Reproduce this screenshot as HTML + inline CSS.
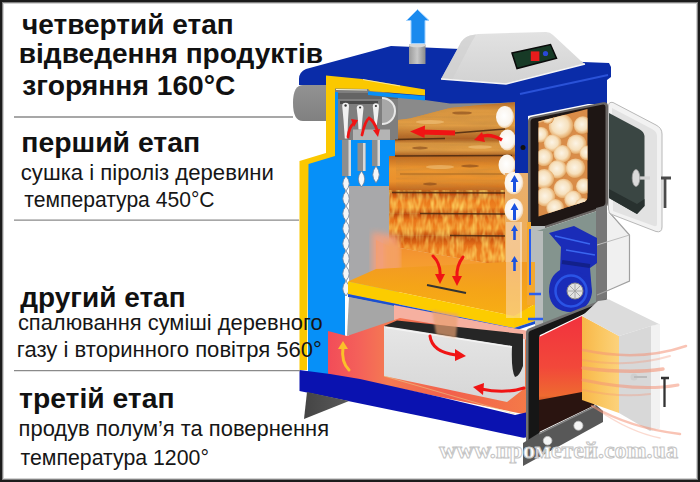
<!DOCTYPE html>
<html><head><meta charset="utf-8">
<style>
html,body{margin:0;padding:0;background:#fff;}
#wrap{position:relative;width:700px;height:482px;overflow:hidden;background:#fff;}
svg{position:absolute;left:0;top:0;}
.b{font-family:"Liberation Sans",sans-serif;font-weight:bold;font-size:28px;fill:#111;}
.r{font-family:"Liberation Sans",sans-serif;font-size:22px;fill:#161616;}
.wm{font-family:"Liberation Serif",serif;font-weight:bold;font-size:24px;fill:#fff;stroke:#c4c4c4;stroke-width:1;}
</style></head><body>
<div id="wrap">
<svg width="700" height="482" viewBox="0 0 700 482">
<defs>
 <linearGradient id="gPipe" x1="0" y1="0" x2="0" y2="1"><stop offset="0" stop-color="#929292"/><stop offset="1" stop-color="#808080"/></linearGradient>
 <linearGradient id="gChim" x1="0" y1="0" x2="1" y2="0"><stop offset="0" stop-color="#9a9a9a"/><stop offset=".5" stop-color="#c8c8c8"/><stop offset="1" stop-color="#8a8a8a"/></linearGradient>
 <linearGradient id="gArrow" x1="0" y1="0" x2="1" y2="0"><stop offset="0" stop-color="#57b4ff"/><stop offset=".5" stop-color="#1f8ff0"/><stop offset="1" stop-color="#1580e6"/></linearGradient>
 <linearGradient id="gBox" x1="0" y1="0" x2="0" y2="1"><stop offset="0" stop-color="#e2e2e2"/><stop offset="1" stop-color="#d2d2d2"/></linearGradient>
 <linearGradient id="gRed" x1="0" y1="0" x2="1" y2="0"><stop offset="0" stop-color="#f24c58"/><stop offset=".15" stop-color="#f4605a"/><stop offset=".3" stop-color="#f47a52"/><stop offset=".6" stop-color="#f2604c"/><stop offset="1" stop-color="#f47a48"/></linearGradient>
 <linearGradient id="gFire" x1="0" y1="0" x2="0" y2="1"><stop offset="0" stop-color="#f08a30"/><stop offset=".5" stop-color="#f59a30"/><stop offset="1" stop-color="#f7a630"/></linearGradient>
 <linearGradient id="gLogs" x1="0" y1="0" x2="0" y2="1"><stop offset="0" stop-color="#d6a062"/><stop offset=".35" stop-color="#cf9350"/><stop offset=".6" stop-color="#d98a38"/><stop offset="1" stop-color="#e0701c"/></linearGradient>
 <linearGradient id="gSlabTop" x1="0" y1="1" x2="0.2" y2="0"><stop offset="0" stop-color="#f8b212"/><stop offset=".6" stop-color="#f5a418"/><stop offset="1" stop-color="#f29a24"/></linearGradient>
 <linearGradient id="gBlock" x1="0" y1="0" x2="0" y2="1"><stop offset="0" stop-color="#e6e6e6"/><stop offset="1" stop-color="#d6d6d6"/></linearGradient>
 <linearGradient id="gGlowL" gradientUnits="userSpaceOnUse" x1="372" y1="0" x2="398" y2="0"><stop offset="0" stop-color="#f2a88c" stop-opacity="0"/><stop offset=".45" stop-color="#f2a088" stop-opacity=".8"/><stop offset="1" stop-color="#f39a60" stop-opacity="1"/></linearGradient>
 <linearGradient id="gFoot" x1="0" y1="0" x2="1" y2="0"><stop offset="0" stop-color="#444"/><stop offset="1" stop-color="#5a5a5a"/></linearGradient>
 <linearGradient id="gDoor2" x1="0" y1="0" x2="1" y2="0"><stop offset="0" stop-color="#f8b648"/><stop offset=".5" stop-color="#fac660"/><stop offset="1" stop-color="#fcd27c"/></linearGradient>
 <linearGradient id="gLowRed" x1="0" y1="0" x2="0" y2="1"><stop offset="0" stop-color="#f2323e"/><stop offset=".45" stop-color="#f2483a"/><stop offset=".7" stop-color="#ee6a30"/><stop offset=".85" stop-color="#7a2614"/><stop offset="1" stop-color="#2a1210"/></linearGradient>
 <linearGradient id="gCol" x1="0" y1="0" x2="0" y2="1"><stop offset="0" stop-color="#e9b070"/><stop offset="1" stop-color="#f4a838"/></linearGradient>
 <linearGradient id="gLogRow" x1="0" y1="0" x2="0" y2="1"><stop offset="0" stop-color="#a85c20"/><stop offset=".25" stop-color="#dc9840"/><stop offset=".65" stop-color="#e09c44"/><stop offset="1" stop-color="#a85c20"/></linearGradient>
 <linearGradient id="gLogRow2" x1="0" y1="0" x2="0" y2="1"><stop offset="0" stop-color="#c06a20"/><stop offset=".35" stop-color="#ec9630"/><stop offset=".7" stop-color="#ea902c"/><stop offset="1" stop-color="#b85a18"/></linearGradient>
 <linearGradient id="gLogFire" x1="0" y1="0" x2="0" y2="1"><stop offset="0" stop-color="#b8420a"/><stop offset=".3" stop-color="#e8741a"/><stop offset=".7" stop-color="#ee8220"/><stop offset="1" stop-color="#c04c0e"/></linearGradient>
 <radialGradient id="gLogEnd" cx=".45" cy=".45" r=".6"><stop offset="0" stop-color="#ffffff"/><stop offset=".72" stop-color="#faf4ec"/><stop offset=".9" stop-color="#f0d0a8"/><stop offset="1" stop-color="#d89858"/></radialGradient>
 <radialGradient id="gWinEnd" cx=".45" cy=".45" r=".55"><stop offset="0" stop-color="#fcf4e6"/><stop offset=".6" stop-color="#f6e0bc"/><stop offset=".9" stop-color="#e8b070"/><stop offset="1" stop-color="#d08a48"/></radialGradient>
 <filter id="fWood" x="0" y="0" width="100%" height="100%">
   <feTurbulence type="fractalNoise" baseFrequency="0.02 0.25" numOctaves="2" seed="3" result="n"/>
   <feColorMatrix in="n" type="matrix" values="0 0 0 0 0.45  0 0 0 0 0.22  0 0 0 0 0.05  0 0 0 1.1 -0.35" result="c"/>
   <feComposite in="c" in2="SourceGraphic" operator="in"/>
 </filter>
 <filter id="fFire" x="0" y="0" width="100%" height="100%">
   <feTurbulence type="fractalNoise" baseFrequency="0.22 0.08" numOctaves="2" seed="7" result="n"/>
   <feColorMatrix in="n" type="matrix" values="0 0 0 0 1  0 0 0 0 0.75  0 0 0 0 0.15  0 0 0 1.8 -0.6" result="c"/>
   <feComposite in="c" in2="SourceGraphic" operator="in"/>
 </filter>
 <filter id="blur1"><feGaussianBlur stdDeviation="1"/></filter>
 <filter id="blur3"><feGaussianBlur stdDeviation="3"/></filter>
 <clipPath id="cLogs"><path d="M398,120 L410,118.5 L450,108 L480,105 L500,103.5 L516,102 L516,268 L389,246 L389,156 L395,156 L395,139.5 L398,139.5 Z"/></clipPath>
 <clipPath id="cWin"><path d="M538.5,121.5 L587.5,109 L587.5,197 Q587.5,200.5 583.5,202 L538.5,216.5 Z"/></clipPath>
</defs>
<!-- ===== BOILER ===== -->
<!-- flue pipe -->
<path d="M303,85 L327,85 L327,121 L303,121 Q293,121 293,103 Q293,85 303,85 Z" fill="url(#gPipe)"/>

<!-- left blue water jacket -->
<path d="M308,163 L335,155 L335,93 L345,93 L345,375 L308,375 Z" fill="#0690f8"/>
<!-- gray smoke chamber -->
<rect x="335" y="88" width="63" height="52" fill="#7e7e7e"/>
<rect x="335" y="92" width="3" height="48" fill="#0690f8"/>
<path d="M398,96 L515,100 L515,125 L398,125 Z" fill="#8a8a8a"/>
<rect x="338" y="93" width="60" height="6" fill="#646464"/>
<!-- blue band with tubes -->
<path d="M345,140 L398,140 L398,180 L392,187 L345,187 Z" fill="#0690f8"/>
<!-- gray lower inner area -->
<rect x="349" y="186" width="50" height="150" fill="#a8a8aa"/>
<!-- salmon glow left of logs -->


<!-- heat exchanger tubes -->
<g>
 <rect x="342" y="140" width="9" height="36" fill="#8e8e8e"/><rect x="348.5" y="140" width="2.5" height="36" fill="#d8d8d8"/>
 <rect x="357.5" y="143" width="8" height="28" fill="#8e8e8e"/><rect x="363" y="143" width="2.5" height="28" fill="#d8d8d8"/>
 <rect x="372" y="140" width="8" height="26" fill="#8e8e8e"/><rect x="377.5" y="140" width="2.5" height="26" fill="#d8d8d8"/>
 <g fill="#f4f6f8" stroke="#6a7c98" stroke-width=".8">
  <path d="M361.5,171 Q368,179 361.5,187 Q355,179 361.5,171 Z"/>
  <path d="M376,166 Q382.5,174.5 376,183 Q369.5,174.5 376,166 Z"/>
  <path d="M346,176 Q352.5,183.5 346,191 Q339.5,183.5 346,176 Z"/>
  <path d="M346,191 Q352.5,198.5 346,206 Q339.5,198.5 346,191 Z"/>
  <path d="M346,206 Q352.5,213.5 346,221 Q339.5,213.5 346,206 Z"/>
  <path d="M346,221 Q352.5,228.5 346,236 Q339.5,228.5 346,221 Z"/>
  <path d="M346,236 Q352.5,243.5 346,251 Q339.5,243.5 346,236 Z"/>
  <path d="M346,251 Q352.5,258.5 346,266 Q339.5,258.5 346,251 Z"/>
  <path d="M346,266 Q352.5,273.5 346,281 Q339.5,273.5 346,266 Z"/>
  <path d="M346,281 Q352.5,288.5 346,296 Q339.5,288.5 346,281 Z"/>
 </g>
 <rect x="340" y="101" width="38" height="3" fill="#4a4a4a"/>
 <g fill="#f0f0f0">
  <path d="M342.2,106 Q342.2,102.8 345.6,102.8 Q349,102.8 349,106 L348,120 L347.4,138.6 L344.8,138.6 L343.5,120 Z"/>
  <path d="M356.7,108 Q356.7,104.9 360.1,104.9 Q363.5,104.9 363.5,108 L362.5,118 L361.5,129.5 L358.5,129.5 L357.8,118 Z"/>
  <path d="M372.8,106.5 Q372.8,103.3 375.9,103.3 Q379,103.3 379,106.5 L378,116 L376.8,125 L374.8,125 L373.8,116 Z"/>
 </g>
 <g fill="#333"><circle cx="345.6" cy="105.5" r="1.2"/><circle cx="360.1" cy="107.5" r="1.1"/><circle cx="375.9" cy="106" r="1.1"/></g>
 <rect x="353" y="129.5" width="37" height="10.5" fill="#b4b4b4"/>
 <path d="M382,98 A13,13 0 0 1 382,124 Z" fill="#a8a8a8"/>
 <path d="M382,98 A13,13 0 0 1 382,124" fill="none" stroke="#e8e8e8" stroke-width="2"/>
 <g fill="none" stroke="#f01414" stroke-width="2.8" stroke-linecap="round">
  <path d="M348,137 Q349,127 354,123"/>
  <path d="M362,135 Q365,121 369,118 Q374,121 377,130"/>
 </g>
 <g fill="#f01414"><path d="M351,119 L358,120 L354,127 Z"/><path d="M373,130 L380,129 L378,137 Z"/></g>
</g>

<!-- logs -->
<g clip-path="url(#cLogs)">
 <rect x="396" y="100" width="124" height="60" fill="#c88a48"/>
 <rect x="389" y="156" width="131" height="114" fill="#c88a48"/>
 <rect x="398" y="100" width="120" height="39.5" fill="url(#gLogRow)"/>
 <rect x="395" y="139.5" width="122" height="16.5" fill="url(#gLogRow)"/>
 <rect x="389" y="156" width="128" height="36.5" fill="url(#gLogRow2)"/>
 <rect x="390" y="192.5" width="127" height="21" fill="url(#gLogFire)"/>
 <rect x="388" y="213.5" width="129" height="22" fill="url(#gLogFire)"/>
 <rect x="388" y="235.5" width="129" height="34" fill="url(#gLogFire)"/>
 <rect x="396" y="100" width="124" height="100" fill="#000" filter="url(#fWood)" opacity=".6"/>
 <rect x="385" y="190" width="135" height="80" fill="#000" filter="url(#fFire)" opacity=".85"/>
 <g fill="#7a4018" opacity=".55">
  <ellipse cx="462" cy="113" rx="10" ry="1.6"/>
  <ellipse cx="420" cy="148" rx="8" ry="1.5"/>
  <ellipse cx="470" cy="166" rx="9" ry="1.5"/>
  <ellipse cx="430" cy="184" rx="7" ry="1.4"/>
 </g>
 <g fill="#f6d090" opacity=".45">
  <ellipse cx="440" cy="167" rx="14" ry="2"/>
  <ellipse cx="480" cy="147" rx="12" ry="1.8"/>
  <ellipse cx="430" cy="122" rx="14" ry="2"/>
 </g>
 <g stroke="#4a2810" stroke-width="1.6" fill="none" opacity=".85">
  <path d="M455,133 L505,129"/>
  <path d="M395,139.5 L445,138.5"/>
  <path d="M395,156 L512,155.5"/>
  <path d="M400,174 L512,174" opacity=".3"/>
  <path d="M392,192.5 L512,193"/>
  <path d="M420,213.5 L512,214"/>
  <path d="M450,235.5 L512,236"/>
 </g>
 <g fill="url(#gLogEnd)">
  <ellipse cx="505" cy="117" rx="9" ry="11"/>
  <ellipse cx="507.5" cy="140" rx="8.5" ry="10.5"/>
  <ellipse cx="507" cy="165" rx="8.5" ry="10.5"/>
 </g>
 <g fill="none" stroke="#f01414" stroke-width="3" stroke-linecap="butt">
  <path d="M455,133 L420,132" stroke-width="5"/>
  <path d="M502,140 Q490,133 480,137" stroke-width="3.5"/>
 </g>
 <g fill="#f01414">
  <path d="M410,131.5 L425,125.5 L424.5,138 Z"/>
  <path d="M474,140 L482,132 L485,142 Z"/>
 </g>
</g>
<!-- right log column -->
<path d="M505,173 L528,173 L528,322 L505,322 Z" fill="url(#gCol)"/>
<g fill="url(#gLogEnd)">
 <ellipse cx="514" cy="183" rx="9.5" ry="11.5"/>
 <ellipse cx="514" cy="210" rx="9.5" ry="11.5"/>
</g>

<rect x="529" y="225" width="2" height="60" fill="#2050e0"/>

<!-- fire glow below logs -->
<path d="M376,240 L389,246 L516,268 L516,280 L376,272 Z" fill="url(#gFire)"/>
<path d="M372,232 L398,236 L398,280 L372,280 Z" fill="#f2a080" filter="url(#blur3)" opacity=".9"/>
<path d="M385,240 L400,246 L400,276 L385,274 Z" fill="#f4a060" filter="url(#blur3)"/>

<!-- lid navy -->
<path d="M299,79 Q299,72 306,69 L391,46 L460,49 L583,62 L609,63 L611,67 L611,77 L607,80 L607,104 L588,104 L528,116 L528,173 L515,173 L515,102 L500,103 L450,103.5 L425,100 L363,88 L334,85 L299,85 Z" fill="#0a2ca8"/>
<path d="M520,94 L608,75" stroke="#2a52d8" stroke-width="2"/>
<circle cx="523" cy="147.5" r="2.5" fill="#111"/>

<!-- yellow insulation -->
<path d="M326,75.5 L362,79 L425,89.5 L425,95.5 L370,91 L368,89 L335,88.5 L335,156 L308.5,164 L307,370 L299.5,370 L299.5,161 L326,153 Z" fill="#fbc800"/>
<path d="M368,91.5 L425,96 L425,100.5 L368,95 Z" fill="#0690f8"/>
<path d="M336,89.5 L367,90" stroke="#f4f0d0" stroke-width="1.2"/>
<path d="M363,79.5 L400,86" stroke="#fff" stroke-width="1" opacity=".6"/>

<!-- chimney + arrow -->
<rect x="409" y="44.5" width="16.5" height="19.5" fill="url(#gChim)"/>
<ellipse cx="417.2" cy="45.5" rx="8.2" ry="1.8" fill="#d8d8d8"/>
<path d="M417.5,9.5 L429,20.5 L425,20.5 L425,43.5 L411,43.5 L411,20.5 L406.5,20.5 Z" fill="#1a8aee" stroke="#9ccfff" stroke-width="1"/>

<!-- control box -->
<path d="M441,79 L459,46 Q462,38 470,35.5 L478,34 L546,32 Q550,32 553,35 L581,61 L585,64 L506,84 Z" fill="url(#gBox)"/>
<path d="M441,79 L459,46 Q462,38 470,35.5 L476,34.5 L470,45 L452,80 Z" fill="#cfcfcf" opacity=".6"/>
<path d="M441,79 L506,84 L585,64" fill="none" stroke="#f6f6f6" stroke-width="1.5"/>
<path d="M512,53 L550.5,44.5 L556.5,58.3 L517,68.6 Z" fill="#173a26" stroke="#0a0a0a" stroke-width="1.5"/>
<rect x="530.8" y="51.4" width="8.6" height="9.6" fill="#e81c1c"/>
<circle cx="545.5" cy="53.5" r="2.6" fill="#2a48d8"/>

<!-- slab (grate) -->
<path d="M348,281.5 L376,269 L505,262 L535,262 L535,304 L514,316 Z" fill="url(#gSlabTop)"/>
<path d="M348,281.5 L514,316 L514,328 L348,294 Z" fill="#fccc00"/>
<path d="M514,316 L535,304 L535,321 L514,328 Z" fill="#fcc800"/>
<path d="M348,294 L514,328 L535,321 L535,324 L514,331 L348,297 Z" fill="#1a4fd0"/>
<line x1="427" y1="285" x2="466" y2="293" stroke="#333" stroke-width="2"/>
<g fill="none" stroke="#f01414" stroke-width="3" stroke-linecap="round">
 <path d="M433,256 Q441,264 440,276"/>
 <path d="M463,257 Q456,266 457,278"/>
</g>
<g fill="#f01414"><path d="M435,274 L445,274 L440,284 Z"/><path d="M452,276 L462,276 L457,286 Z"/></g>

<!-- translucent column + arrows -->
<path d="M506,222 L522,222 L522,318 L506,318 Z" fill="#fbe6d8" opacity=".45"/>
<path d="M521,222 L521,318" stroke="#f8f0e8" stroke-width="1" opacity=".7"/>
<g fill="#1a52e0">
 <path d="M514.5,175 L518.5,182 L516,182 L516,192 L513,192 L513,182 L510.5,182 Z"/>
 <path d="M514.5,203 L518.5,210 L516,210 L516,220 L513,220 L513,210 L510.5,210 Z"/>
 <path d="M514.5,225 L518,231 L515.8,231 L515.8,240 L513.2,240 L513.2,231 L511,231 Z"/>
 <path d="M514.5,256 L518,262 L515.8,262 L515.8,271 L513.2,271 L513.2,262 L511,262 Z"/>
</g>

<!-- lower chamber -->
<!-- gray above red -->
<path d="M349,297 L400,307 L400,318 L347,336 Z" fill="#a6a6a6"/>
<!-- glow strip under slab -->
<path d="M394,305 L528,331 L528,341 L394,321 Z" fill="#f6b0a0"/>
<!-- red chamber -->
<path d="M328,331 L347,336 L400,318 L528,340 L528,415 L328,374 Z" fill="url(#gRed)"/>
<!-- ceramic block front -->
<path d="M384,326 L525,339 L525,388 L507,402 L384,376 Z" fill="url(#gBlock)"/>
<!-- dark trough -->
<path d="M384,326 L397,320.5 L523,334 L523,366 Q519,377 515,377 Q511,370 512,346 L398,328 Z" fill="#262626"/>
<path d="M386,327.5 L512,347" stroke="#f4f4f4" stroke-width="1.5"/>
<!-- flame glow column -->
<path d="M432,310 L458,314 L456,338 L436,334 Z" fill="#e8a070" opacity=".7" filter="url(#blur1)"/>
<!-- red arrows in lower chamber -->
<g fill="none" stroke="#f01414" stroke-width="3" stroke-linecap="round">
 <path d="M430,336 Q432,352 456,355"/>
 <path d="M481,389 Q505,394 524,388"/>
</g>
<g fill="#f01414"><path d="M466,356 L455,349 L455,361 Z"/><path d="M473,387 L484,383 L483,395 Z"/></g>
<!-- yellow arrow -->
<path d="M349,370 Q341,362 343,347" fill="none" stroke="#fbc02a" stroke-width="3" stroke-linecap="round"/>
<path d="M343,341 L348,349 L338,349 Z" fill="#fbc02a"/>

<!-- navy base -->
<path d="M299.5,370 L330,374 L360,379 L440,397 L515,415 L528,412 L528,436 Q526,438.5 522,437.5 L440,420 L299.5,391 Z" fill="#0a12b0"/>
<path d="M384,376 L515,414" stroke="#e8d890" stroke-width="1" opacity=".5"/>
<!-- left foot -->
<path d="M307,392 L349,401 L304,419 Z" fill="url(#gFoot)"/>

<!-- upper door frame -->
<path d="M528,121 Q528,117.5 532,116.8 L603,102.3 Q608,101.5 608,106 L608,203 Q608,207.5 603,209 L537,231 Q528,233 528,226 Z" fill="#6a6664"/>
<path d="M530.5,122 Q530.5,119 533,118.5 L603,104.5 Q605.5,104 605.5,107 L605.5,202 Q605.5,205.5 601.5,207 L537,228.5 Q530.5,230.5 530.5,225 Z" fill="#1e1614"/>
<g clip-path="url(#cWin)">
 <rect x="536" y="104" width="56" height="114" fill="#d98c48"/>
 <g fill="url(#gWinEnd)">
  <circle cx="561.3" cy="126.5" r="12.5"/>
  <circle cx="582.8" cy="125.3" r="9"/>
  <circle cx="541" cy="134.9" r="8"/>
  <circle cx="552.9" cy="143.3" r="9"/>
  <circle cx="576.8" cy="144.4" r="10"/>
  <circle cx="562.5" cy="154" r="9"/>
  <circle cx="544.6" cy="157.6" r="9"/>
  <circle cx="587" cy="153" r="7.5"/>
  <circle cx="557.7" cy="169.5" r="9.5"/>
  <circle cx="575.6" cy="168.4" r="10"/>
  <circle cx="544.6" cy="179" r="10"/>
  <circle cx="563.7" cy="188.7" r="10"/>
  <circle cx="584" cy="186.3" r="8"/>
  <circle cx="545.8" cy="197" r="10"/>
  <circle cx="573.3" cy="199.4" r="9"/>
  <circle cx="555.3" cy="208" r="9"/>
  <circle cx="583" cy="206" r="8"/>
  <circle cx="540" cy="116" r="7"/>
  <circle cx="548" cy="118" r="6"/>
 </g>
</g>

<!-- fan housing -->
<path d="M527,222 L531,222 L531,262 L535,262 L535,305 L527,305 Z" fill="#f4a830"/>
<path d="M531,226 L545,226 L545,333 L535,335 L535,262 L531,262 Z" fill="#b8bcbc"/>
<path d="M537,231 L603,209 L603,301 L543,326 L543,231 Z" fill="#84948e"/>
<path d="M596,208 L607,205 L607,299 L596,304 Z" fill="#777"/>
<path d="M607,212 L629.5,235 L629.5,281 L607,290 Z" fill="#f0f0f0"/>
<path d="M609,212 L629.5,235 L629.5,281 L609,290 L597,295" fill="none" stroke="#a0a0a0" stroke-width="1.2"/>
<path d="M597,245 L629.5,235" fill="none" stroke="#bdbdbd" stroke-width="1"/>
<path d="M549,233 L574,226 L597,238 L597,263 L590,268 L592,292 Q590,310 572,312 Q550,312 549,292 Q549,276 560,270 L561,247 Z" fill="#1a2cb8"/>
<path d="M555,236 L590,244 M566,250 L595,255" stroke="#3a66f0" stroke-width="1.5"/>
<path d="M562,262 L590,266" stroke="#12208a" stroke-width="4"/>
<circle cx="571" cy="291" r="20.5" fill="#1a2cb8"/>
<circle cx="571" cy="291" r="15.5" fill="none" stroke="#2a54e6" stroke-width="2.5"/>
<circle cx="575" cy="291" r="8" fill="#e2e2e2" stroke="#8a8a8a" stroke-width="1"/>
<path d="M575,284 L575,298 M568,291 L582,291 M570,286 L580,296 M580,286 L570,296" stroke="#9a9a9a" stroke-width=".8"/>
<path d="M530,229 L530,285" stroke="#2a5ef0" stroke-width="2"/>
<path d="M529,294 L541,294 M528,319 L543,319" stroke="#2a5ef0" stroke-width="2.5"/>

<!-- lower door frame -->
<path d="M526,333 Q526,329 530,328 L605,298.5 L610,301 L540,333 L540,441 L526,443 Z" fill="#707070"/>
<path d="M528.5,334 Q528.5,331 531,330.5 L606,300.5 L609,302 L539,335.5 L539,439 L528.5,441 Z" fill="#161616"/>
<path d="M539,337 L582,316 L582,396 L539,430 Z" fill="url(#gLowRed)"/>
<path d="M539,400 L582,392 L595,405 L539,432 Z" fill="#2a1410"/>
<path d="M582,316 L619,336 L619,413 L582,400 Z" fill="url(#gDoor2)"/>
<!-- lower open door -->
<path d="M582,316 L598,301 L609,299.5 L659,324 L651,326 L619,336 Z" fill="#dcdcdc"/>
<path d="M619,336 L651,326 L660,324 L660,428 L650,431 L619,413 Z" fill="#d8d8d8"/>
<path d="M651,326 L660,324 L660,428 L651,431 Z" fill="#f2f2f2"/>
<!-- plinth -->
<path d="M523,443 L539,433 L596,405 L603,411 L603,422 L523,466 Z" fill="#585858"/>
<path d="M539,434 L596,406" stroke="#8a8a8a" stroke-width="1.2"/>
<circle cx="547.6" cy="440.7" r="4.3" fill="#f4f4f4" stroke="#c0c0c0" stroke-width=".8"/>
<circle cx="578.4" cy="425.7" r="4.5" fill="#f4f4f4" stroke="#c0c0c0" stroke-width=".8"/>
<!-- flame streaks -->
<g fill="none" stroke="#f49478" stroke-linecap="round">
 <path d="M583,350 Q640,362 686,346" stroke-width="2.5" opacity=".55"/>
 <path d="M583,360 Q630,368 670,356" stroke-width="2" opacity=".35"/>
 <path d="M583,368 Q630,374 663,369" stroke-width="3.5" opacity=".6"/>
 <path d="M583,380 Q640,392 678,385" stroke-width="3" opacity=".55"/>
 <path d="M583,390 Q620,398 650,394" stroke-width="2" opacity=".35"/>
 <path d="M592,406 Q630,428 680,434" stroke-width="2.5" opacity=".55"/>
 <path d="M598,410 Q630,432 660,438" stroke-width="1.5" opacity=".35"/>
</g>
<circle cx="634" cy="377" rx="3" r="3.5" fill="#cfcfcf"/>
<path d="M634,377 L647,377" stroke="#bbb" stroke-width="2"/>
<path d="M661,378 L669,378 M664.5,378 L664.5,407" stroke="#333" stroke-width="2.3"/>

<!-- upper open door -->
<path d="M608.5,106 Q608.5,101.5 613,102.5 L656,125 Q662,128 662,134 L662,227 Q662,233 656,231.5 L612,214.5 Q608.5,213.5 608.5,209 Z" fill="#f2f2f2" stroke="#b8b8b8" stroke-width="1"/>
<path d="M612,108 L652,129 Q657,131.5 657,136 L657,224 Q657,227 654,226 L613,211 Z" fill="#e2e2e2"/>
<path d="M609,113 L639,129 Q644,131.5 644.5,136 L644.5,206 L637,214 L609,198 Z" fill="#3a4643"/>
<path d="M609,189 L637,204 L644.5,199 L644.5,206 L637,214 L609,198 Z" fill="#28312f"/>
<line x1="636" y1="178" x2="650" y2="178" stroke="#d2d2d2" stroke-width="3.2"/>
<ellipse cx="636" cy="178" rx="3.8" ry="8.5" fill="#dadada" stroke="#9a9a9a" stroke-width=".8"/>
<path d="M661,178 L671,178 M665,178 L665,208" stroke="#4a4a4a" stroke-width="2.8"/>
<!-- ===== TEXT ===== -->
<g stroke="#8a8a8a" stroke-width="1.3">
<line x1="14" y1="117" x2="293" y2="117"/>
<line x1="14" y1="220.2" x2="299" y2="220.2"/>
<line x1="14" y1="370.6" x2="300" y2="370.6"/>
</g>
<text class="b" x="22.0" y="33.7" textLength="211.64" lengthAdjust="spacingAndGlyphs">четвертий етап</text>
<text class="b" x="18.8" y="63.4" textLength="304.33" lengthAdjust="spacingAndGlyphs">відведення продуктів</text>
<text class="b" x="22.29" y="94.5" textLength="213.19" lengthAdjust="spacingAndGlyphs">згоряння 160°C</text>
<text class="b" x="21.27" y="152" textLength="178.88" lengthAdjust="spacingAndGlyphs">перший етап</text>
<text class="r" x="20.8" y="180.1" textLength="252.99" lengthAdjust="spacingAndGlyphs">сушка і піроліз деревини</text>
<text class="r" x="24.3" y="206.9" textLength="190.33" lengthAdjust="spacingAndGlyphs">температура 450°C</text>
<text class="b" x="20.3" y="306.5" textLength="165.26" lengthAdjust="spacingAndGlyphs">другий етап</text>
<text class="r" x="17.91" y="329.5" textLength="304.68" lengthAdjust="spacingAndGlyphs">спалювання суміші деревного</text>
<text class="r" x="16.89" y="356.9" textLength="305.03" lengthAdjust="spacingAndGlyphs">газу і вторинного повітря 560°</text>
<text class="b" x="19.09" y="408" textLength="155.44" lengthAdjust="spacingAndGlyphs">третій етап</text>
<text class="r" x="18.61" y="436" textLength="310.46" lengthAdjust="spacingAndGlyphs">продув полум’я та повернення</text>
<text class="r" x="20.5" y="464.7" textLength="188.41" lengthAdjust="spacingAndGlyphs">температура 1200°</text>

<!-- watermark -->
<text class="wm" x="439" y="458" textLength="239" lengthAdjust="spacingAndGlyphs">www.прометей.com.ua</text>

<!-- frame border -->
<rect x="1" y="1" width="698" height="480" fill="none" stroke="#1c1c1c" stroke-width="2"/>
<rect x="2.5" y="2.5" width="695" height="477" fill="none" stroke="#1c1c1c" stroke-opacity=".55" stroke-width="1"/>
<rect x="3.5" y="3.5" width="693" height="475" fill="none" stroke="#1c1c1c" stroke-opacity=".2" stroke-width="1"/>
</svg>
</div>
</body></html>
